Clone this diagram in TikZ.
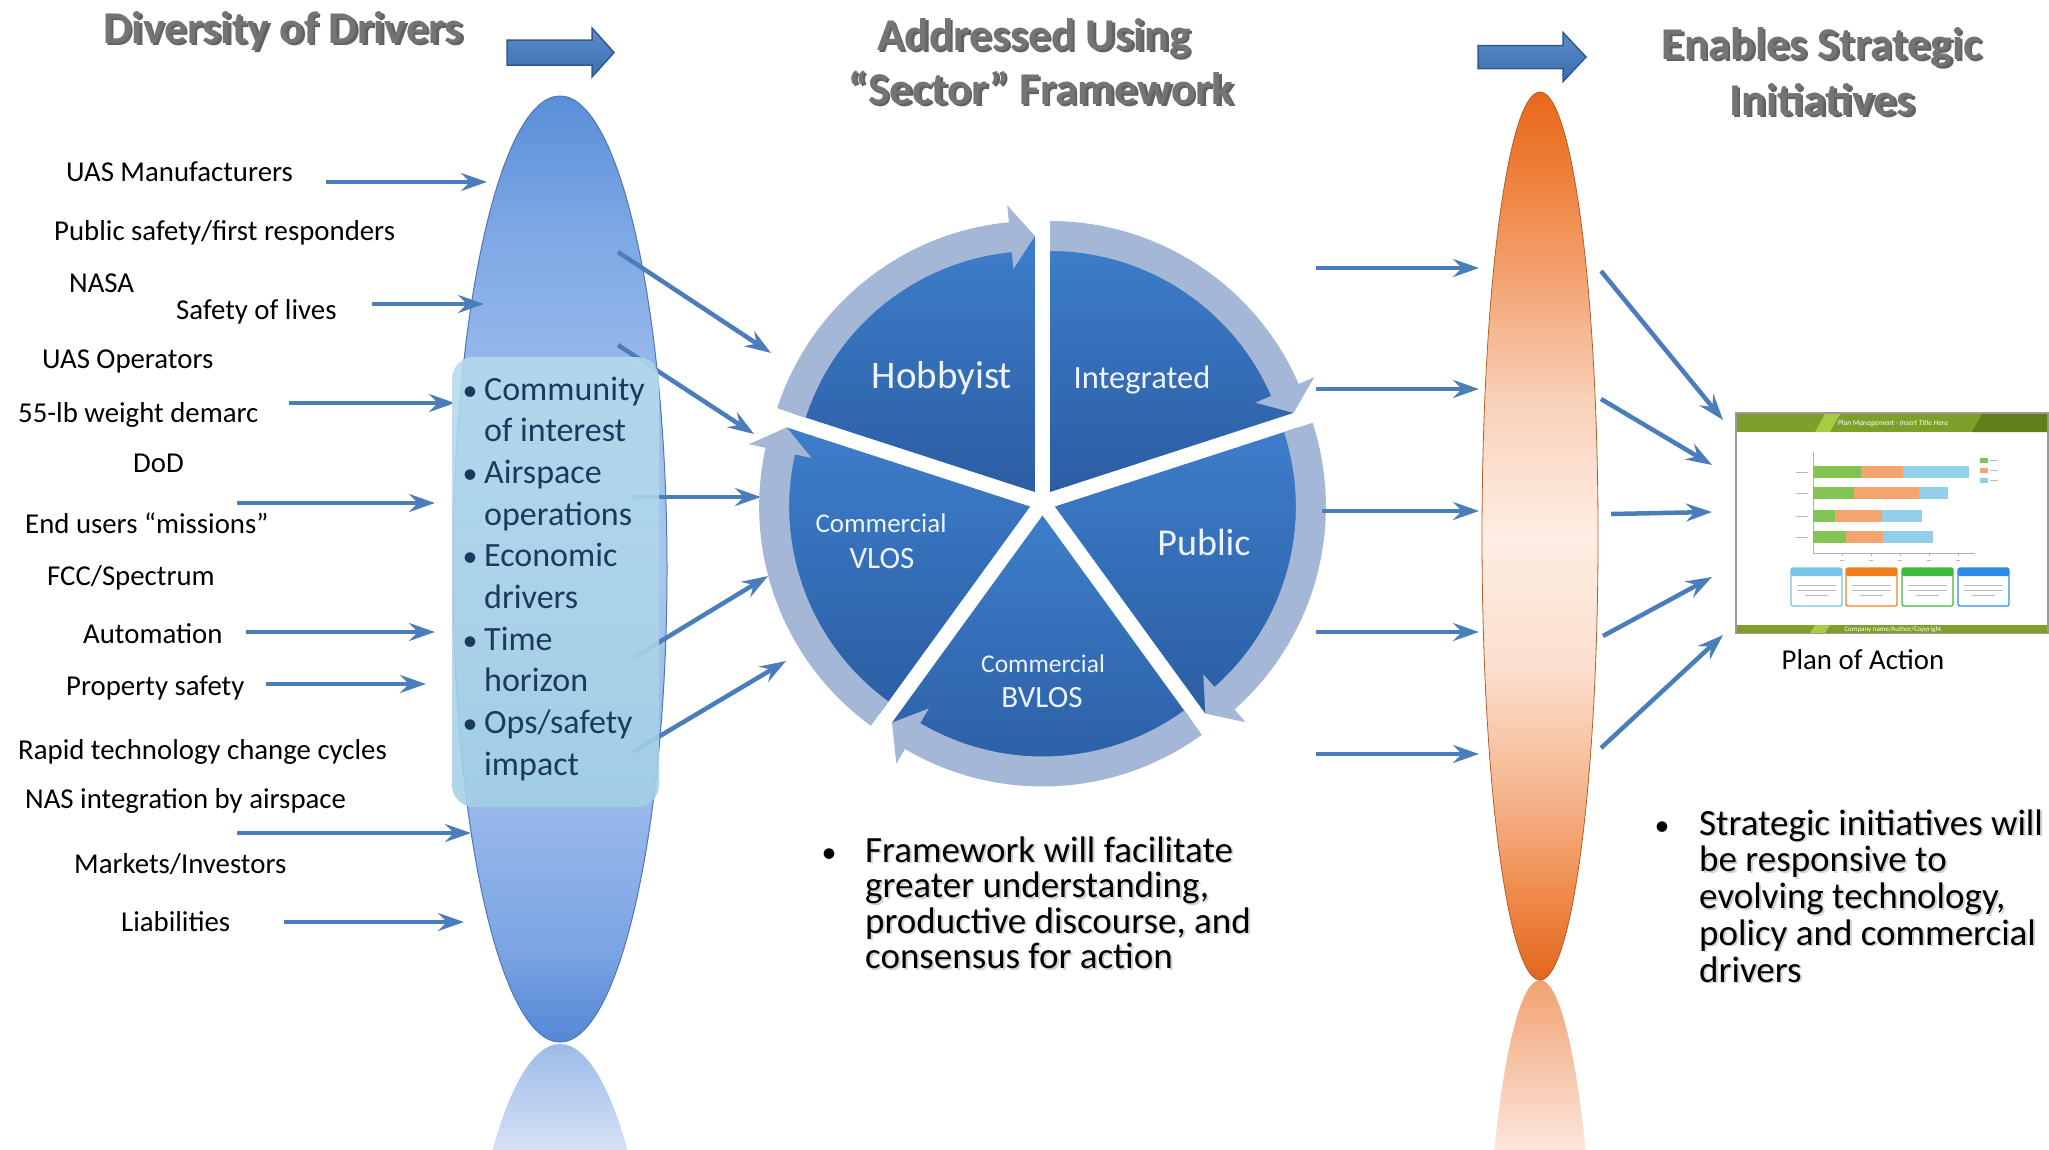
\documentclass[tikz,border=0pt]{standalone}
\usepackage{fontspec}
\setmainfont{Carlito}
\usetikzlibrary{arrows.meta}

\definecolor{linkblue}{HTML}{4A7EBB}
\definecolor{blockline}{HTML}{2F5A90}
\definecolor{blocktop}{HTML}{5B8DCD}
\definecolor{blockbot}{HTML}{3D6DAB}
\definecolor{ellline}{HTML}{4C78B6}
\definecolor{orline}{HTML}{B0602A}
\definecolor{ringc}{HTML}{A5B7D7}
\definecolor{wtop}{HTML}{3E7ECB}
\definecolor{wbot}{HTML}{2B5DA3}
\definecolor{wtext}{HTML}{EEF4FB}
\definecolor{boxtop}{HTML}{B5DBEC}
\definecolor{boxbot}{HTML}{A3D0E5}
\definecolor{navytxt}{HTML}{1C3A5E}
\definecolor{titlegray}{HTML}{747474}
\definecolor{titleshadow}{HTML}{2E2E2E}
% left ellipse
\definecolor{lbA}{HTML}{5587D5}
\definecolor{lbB}{HTML}{7CA5E3}
\definecolor{lbC}{HTML}{98B8EB}
\definecolor{lbD}{HTML}{A8C5F0}
\definecolor{lbE}{HTML}{A0BFEE}
\definecolor{lbF}{HTML}{7FA9E5}
\definecolor{lbG}{HTML}{5A8ED9}
% orange ellipse
\definecolor{orA}{HTML}{E2661E}
\definecolor{orB}{HTML}{EE8442}
\definecolor{orC}{HTML}{F5B288}
\definecolor{orD}{HTML}{FBDFCD}
\definecolor{orE}{HTML}{FDEDE3}
\definecolor{orF}{HTML}{F9D2B9}
\definecolor{orG}{HTML}{F3A06C}
\definecolor{orH}{HTML}{EE7C35}
\definecolor{orI}{HTML}{E8681C}
% reflections
\definecolor{rbA}{HTML}{9DBBE9}
\definecolor{rbB}{HTML}{D8E4F6}
\definecolor{roA}{HTML}{F2A273}
\definecolor{roB}{HTML}{FBE6DA}
% plan image
\definecolor{planframe}{HTML}{9A9A9A}
\definecolor{planhead}{HTML}{7EA02A}
\definecolor{planlight}{HTML}{A9CC45}
\definecolor{plandark}{HTML}{5F7F1A}
\definecolor{pgreen}{HTML}{82C454}
\definecolor{porange}{HTML}{F4A46E}
\definecolor{pblue}{HTML}{92CFEA}
\definecolor{bxA}{HTML}{78C3E6}
\definecolor{bxB}{HTML}{F0801E}
\definecolor{bxC}{HTML}{3DB93D}
\definecolor{bxD}{HTML}{2D8BE8}

\pgfdeclareverticalshading{leftell}{100bp}{color(0bp)=(lbA); color(25bp)=(lbA); color(30bp)=(lbB); color(37.5bp)=(lbC); color(50bp)=(lbD); color(57.5bp)=(lbE); color(67.5bp)=(lbF); color(75bp)=(lbG); color(100bp)=(lbG)}
\pgfdeclareverticalshading{orangeell}{100bp}{color(0bp)=(orA); color(25bp)=(orA); color(29bp)=(orB); color(35bp)=(orC); color(42.5bp)=(orD); color(50bp)=(orE); color(57.5bp)=(orF); color(65bp)=(orG); color(71bp)=(orH); color(75bp)=(orI); color(100bp)=(orI)}
\pgfdeclareverticalshading{reflb}{100bp}{color(0bp)=(white); color(25bp)=(white); color(69bp)=(rbB); color(75bp)=(rbA); color(100bp)=(rbA)}
\pgfdeclareverticalshading{reflo}{100bp}{color(0bp)=(white); color(25bp)=(white); color(65.5bp)=(roB); color(75bp)=(roA); color(100bp)=(roA)}

\tikzset{
  link/.style={draw=linkblue, line width=4.5pt, -{Stealth[length=26pt,width=18pt,inset=9pt]}},
  blockarrow/.style={top color=blocktop, bottom color=blockbot, draw=blockline, line width=1.5pt, line join=miter},
  title/.style={anchor=base, inner sep=0pt, font=\fontsize{45.5}{50}\bfseries\selectfont, text=titlegray},
  titlesh/.style={title, text=titleshadow, opacity=0.75},
  lbl/.style={anchor=base west, inner sep=0pt, font=\fontsize{28.8}{34}\selectfont, text=black},
  boxtxt/.style={anchor=base west, inner sep=0pt, font=\fontsize{34}{40}\selectfont, text=navytxt, text height=24pt, text depth=7pt},
  boxbul/.style={anchor=base, inner sep=0pt, font=\fontsize{30}{40}\selectfont, text=navytxt},
  bigtxt/.style={anchor=base west, inner sep=0pt, font=\fontsize{37}{40}\selectfont, text=black, text height=24pt, text depth=7pt},
  bigsh/.style={bigtxt, text=gray, opacity=0.35},
  bigbul/.style={anchor=base, inner sep=0pt, font=\fontsize{30}{40}\selectfont, text=black},
  wlabel/.style={anchor=base, inner sep=0pt, text=wtext},
  tinyline/.style={draw=gray!55, line width=0.8pt},
}

\begin{document}
\begin{tikzpicture}[x=1pt,y=-1pt]
\useasboundingbox (0,0) rectangle (2049,1149);
\fill[white] (0,0) rectangle (2049,1149);

% ---------- reflections ----------
\begin{scope}
  \clip (0,1040) rectangle (2049,1149);
  \shade[shading=reflb] (560,1517) ellipse [x radius=107pt, y radius=473pt];
\end{scope}
\begin{scope}
  \clip (0,978) rectangle (2049,1149);
  \shade[shading=reflo] (1540,1424) ellipse [x radius=58pt, y radius=444pt];
\end{scope}

% ---------- ellipses ----------
\shade[shading=leftell, draw=ellline, line width=1pt] (560,569) ellipse [x radius=107pt, y radius=473pt];
\node[minimum width=214pt, minimum height=946pt, inner sep=0pt] (leftell) at (560,569) {};
\shade[shading=orangeell, draw=orline, line width=0.8pt] (1540,536) ellipse [x radius=58pt, y radius=444pt];
\node[minimum width=116pt, minimum height=888pt, inner sep=0pt] (orell) at (1540,536) {};

% ---------- title block arrows ----------
\path[blockarrow] (507,40) -- (592,40) -- (592,28) -- (614,52.5) -- (592,77) -- (592,65) -- (507,65) -- cycle;
\path[blockarrow] (1478,45.5) -- (1563,45.5) -- (1563,32.5) -- (1586,57) -- (1563,81.5) -- (1563,68.5) -- (1478,68.5) -- cycle;

% ---------- titles ----------
\foreach \n/\x/\y/\t in {ttlA/283/43/{Diversity of Drivers}, ttlB/1034/50/{Addressed Using}, ttlC/1041/104/{“Sector” Framework}, ttlD/1822/59/{Enables Strategic}, ttlE/1822/115/{Initiatives}} {
  \node[titlesh] (\n-s) at (\x+2.5,\y+2.5) {\t};
  \node[title] (\n) at (\x,\y) {\t};
}

% ---------- left labels ----------
\foreach \n/\x/\y/\t in {
  lA/66/181/{UAS Manufacturers},
  lB/54/240/{Public safety/first responders},
  lC/69/292/{NASA},
  lD/176/319/{Safety of lives},
  lE/42/368/{UAS Operators},
  lF/18/422/{55-lb weight demarc},
  lG/133/472/{DoD},
  lH/25/533/{End users “missions”},
  lI/47/585/{FCC/Spectrum},
  lJ/83/643/{Automation},
  lK/66/695/{Property safety},
  lL/18/759/{Rapid technology change cycles},
  lM/25/808/{NAS integration by airspace},
  lN/74/873/{Markets/Investors},
  lO/121/931/{Liabilities}} {
  \node[lbl] (\n) at (\x,\y) {\t};
}

% ---------- left arrows into ellipse ----------
\foreach \n/\xa/\xb/\y in {aA/326/487/182, aB/372/484/304, aC/289/455/403, aD/237/435/503, aE/246/435/632, aF/266/426/684, aG/237/471/833, aH/284/464/922} {
  \coordinate (\n-s) at (\xa,\y);
  \coordinate (\n-e) at (\xb,\y);
  \draw[link] (\n-s) -- (\n-e);
}

% ---------- arrows from ellipse to pie ----------
\foreach \n/\xa/\ya/\xb/\yb in {dA/618/252/771/353, dB/618/345/754/434, dC/633/497/761/497, dD/633/658/768/576, dE/633/752/786/661} {
  \coordinate (\n-s) at (\xa,\ya);
  \coordinate (\n-e) at (\xb,\yb);
  \draw[link] (\n-s) -- (\n-e);
}

% ---------- light blue box ----------
\shade[top color=boxtop, bottom color=boxbot, fill opacity=0.88, rounded corners=22pt] (452,357) rectangle (659,807);
\node[minimum width=207pt, minimum height=450pt, inner sep=0pt] (box) at (555.5,582) {};
\foreach \t [count=\i from 0] in {Community, of interest, Airspace, operations, Economic, drivers, Time, horizon, {Ops/safety}, impact} {
  \node[boxtxt] (bx\i) at (484,400+41.7*\i) {\t};
}
\foreach \i in {0,2,4,6,8} {
  \node[boxbul] (bb\i) at (470,400+41.7*\i) {\textbullet};
}

% ---------- pie ----------
\begin{scope}[shift={(1042.5,502.5)}]
  \foreach \b/\s/\e in {126/162/90, 54/90/18, -18/18/-54, -90/-54/-126, -162/-126/-198} {
    \begin{scope}[shift={(\b:13pt)}]
      \shade[top color=wtop, bottom color=wbot] (0pt,0pt) -- (\s:256pt) arc[start angle=\s, end angle=\e, radius=256pt] -- cycle;
    \end{scope}
  }
  \foreach \b/\s/\e in {126/162/90, 54/90/18, -18/18/-54, -90/-54/-126, -162/-126/-198} {
    \pgfmathsetmacro{\hb}{\e+5.5}
    \begin{scope}[shift={(\b:13pt)}]
      \fill[ringc] (\s:271pt) arc[start angle=\s, end angle=\hb, radius=271pt] -- (\hb:288pt) -- (\e:256pt) -- (\hb:224pt) -- (\hb:241pt) arc[start angle=\hb, end angle=\s, radius=241pt] -- cycle;
    \end{scope}
  }
\end{scope}
\node[minimum size=560pt, inner sep=0pt] (pie) at (1042.5,502.5) {};
\node[wlabel, font=\fontsize{39}{44}\selectfont] (hob) at (942,388) {Hobbyist};
\node[wlabel, font=\fontsize{32.5}{38}\selectfont] (integ) at (1142,388) {Integrated};
\node[wlabel, font=\fontsize{38}{44}\selectfont] (pub) at (1204,555) {Public};
\node[wlabel, font=\fontsize{27}{32}\selectfont] (vlos1) at (881,532) {Commercial};
\node[wlabel, font=\fontsize{31}{36}\selectfont] (vlos2) at (882,568) {VLOS};
\node[wlabel, font=\fontsize{25.5}{30}\selectfont] (bvlos1) at (1043,672) {Commercial};
\node[wlabel, font=\fontsize{31}{36}\selectfont] (bvlos2) at (1042,707) {BVLOS};

% ---------- arrows pie -> orange ----------
\foreach \n/\xa/\y in {rA/1316/268, rB/1316/389, rC/1322/511, rD/1316/632, rE/1316/754} {
  \coordinate (\n-s) at (\xa,\y);
  \coordinate (\n-e) at (1479,\y);
  \draw[link] (\n-s) -- (\n-e);
}

% ---------- arrows orange -> plan ----------
\foreach \n/\xa/\ya/\xb/\yb in {oA/1601/271/1723/420, oB/1601/399/1712/465, oC/1611/514/1712/512, oD/1603/636/1712/577, oE/1601/748/1723/635} {
  \coordinate (\n-s) at (\xa,\ya);
  \coordinate (\n-e) at (\xb,\yb);
  \draw[link] (\n-s) -- (\n-e);
}

% ---------- plan of action picture ----------
\node[draw=planframe, fill=white, line width=1.2pt, minimum width=312pt, minimum height=220pt, inner sep=0pt] (plan) at (1892,523) {};
\fill[planhead] (1737,414) rectangle (2047,432);
\fill[planlight] (1815,432) -- (1825,414) -- (1840,414) -- (1830,432) -- cycle;
\fill[plandark] (1972,432) -- (1982,414) -- (2047,414) -- (2047,432) -- cycle;
\node[inner sep=0pt, text=white, font=\fontsize{7.5}{8}\itshape\selectfont] (plantitle) at (1893,423.5) {Plan Management - Insert Title Here};
\fill[planhead] (1737,625) rectangle (2047,633);
\fill[planlight] (1810,633) -- (1815,625) -- (1830,625) -- (1825,633) -- cycle;
\node[inner sep=0pt, text=white, font=\fontsize{7}{8}\selectfont] (planfoot) at (1893,629.5) {Company name/Author/Copyright};
% axes
\draw[gray!60, line width=0.6pt] (1813,452) -- (1813,553) -- (1975,553);
\foreach \tx in {1842,1871,1900,1929,1958} { \draw[gray!60, line width=0.5pt] (\tx,553) -- (\tx,556); \draw[tinyline, line width=0.6pt] (\tx-2,560) -- (\tx+2,560); }
% bars
\foreach \yy/\ga/\oa/\ba in {466/1861/1903/1969, 487/1854/1919/1948, 510/1835/1882/1922, 531/1846/1883/1933} {
  \fill[pgreen] (1813,\yy) rectangle (\ga,\yy+12);
  \fill[porange] (\ga,\yy) rectangle (\oa,\yy+12);
  \fill[pblue] (\oa,\yy) rectangle (\ba,\yy+12);
  \draw[tinyline] (1796,\yy+6) -- (1808,\yy+6);
}
% legend
\foreach \yy/\cc in {458/pgreen, 468/porange, 478/pblue} {
  \fill[\cc] (1980,\yy) rectangle (1988,\yy+5);
  \draw[tinyline] (1990,\yy+2.5) -- (1998,\yy+2.5);
}
% small boxes
\foreach \xa/\cc in {1791/bxA, 1846/bxB, 1902/bxC, 1958/bxD} {
  \draw[\cc, fill=white, line width=1.2pt, rounded corners=2pt] (\xa,568) rectangle (\xa+51,606);
  \fill[\cc, rounded corners=2pt] (\xa,568) rectangle (\xa+51,576);
  \draw[tinyline] (\xa+6,585) -- (\xa+45,585);
  \draw[tinyline] (\xa+6,590) -- (\xa+45,590);
  \draw[tinyline] (\xa+14,595) -- (\xa+37,595);
}
\node[anchor=base, inner sep=0pt, font=\fontsize{28.8}{34}\selectfont, text=black] (poa) at (1863,669) {Plan of Action};

% ---------- bullet texts ----------
\foreach \t [count=\i from 0] in {Framework will facilitate, {greater understanding,}, {productive discourse, and}, consensus for action} {
  \node[bigsh] (mt\i-s) at (867,863.5+35.5*\i) {\t};
  \node[bigtxt] (mt\i) at (865,862+35.5*\i) {\t};
}
\node[bigbul] (mbul) at (829,862) {\textbullet};
\foreach \t [count=\i from 0] in {Strategic initiatives will, be responsive to, {evolving technology,}, policy and commercial, drivers} {
  \node[bigsh] (rt\i-s) at (1701,836.5+36.8*\i) {\t};
  \node[bigtxt] (rt\i) at (1699,835+36.8*\i) {\t};
}
\node[bigbul] (rbul) at (1662,835) {\textbullet};

\end{tikzpicture}
\end{document}
